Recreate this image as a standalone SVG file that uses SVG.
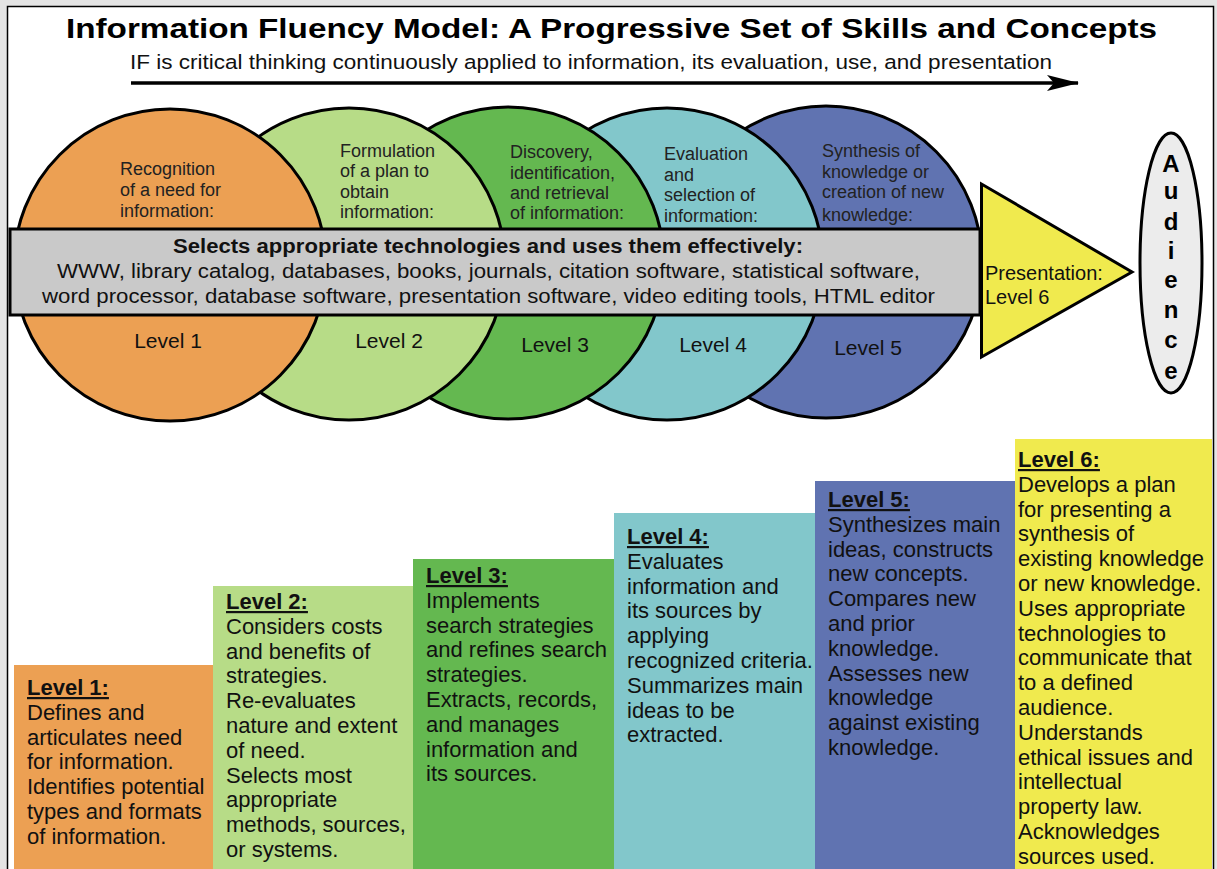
<svg xmlns="http://www.w3.org/2000/svg" width="1217" height="869" viewBox="0 0 1217 869">
<defs>
<marker id="ah" viewBox="0 0 32 16" refX="31" refY="8" markerWidth="32" markerHeight="16" markerUnits="userSpaceOnUse" orient="auto">
<path d="M0,0 L32,8 L0,16 L7,8 Z" fill="#000"/>
</marker>
<style>
.title{font-family:"Liberation Sans",Arial,sans-serif;font-weight:bold;font-size:28px;fill:#000}
.sub{font-family:"Liberation Sans",Arial,sans-serif;font-size:20.5px;fill:#111}
.circ{stroke:#000;stroke-width:3}
.clab{font-family:"Liberation Sans",Arial,sans-serif;font-size:18px;fill:#222}
.lvl{font-family:"Liberation Sans",Arial,sans-serif;font-size:21px;fill:#111;text-anchor:middle}
.band{font-family:"Liberation Sans",Arial,sans-serif;font-size:20px;fill:#111}
.bandb{font-family:"Liberation Sans",Arial,sans-serif;font-size:20px;font-weight:bold;fill:#111}
.aud{font-family:"Liberation Sans",Arial,sans-serif;font-size:24px;font-weight:bold;fill:#000;text-anchor:middle}
.box{font-family:"Liberation Sans",Arial,sans-serif;font-size:22px;fill:#111}
.hd{font-weight:bold;text-decoration:underline}
</style>
</defs>
<rect x="0" y="0" width="1217" height="869" fill="#e4e4e4"/>
<rect x="7.5" y="6.5" width="1206" height="880" fill="#fff" stroke="#000" stroke-width="1.5"/>

<g id="title">
<text class="title" x="66" y="38" textLength="1091" lengthAdjust="spacingAndGlyphs">Information Fluency Model: A Progressive Set of Skills and Concepts</text>
<text class="sub" x="130" y="69" textLength="922" lengthAdjust="spacingAndGlyphs">IF is critical thinking continuously applied to information, its evaluation, use, and presentation</text>
</g>

<g id="connectors">
<line x1="131" y1="83" x2="1078" y2="83" stroke="#000" stroke-width="3.3" marker-end="url(#ah)"/>
</g>

<g id="level5-circle">
<circle class="circ" cx="826" cy="262" r="156" fill="#6073b1"/>
</g>
<g id="level4-circle">
<circle class="circ" cx="667" cy="264" r="156" fill="#82c7cb"/>
</g>
<g id="level3-circle">
<circle class="circ" cx="508" cy="263" r="156" fill="#64b850"/>
</g>
<g id="level2-circle">
<circle class="circ" cx="349" cy="264" r="156" fill="#b7dc87"/>
</g>
<g id="level1-circle">
<circle class="circ" cx="170" cy="265" r="156" fill="#eca053"/>
</g>

<g id="circle-labels">
<text class="clab" x="120" y="175">Recognition<tspan x="120" y="196">of a need for</tspan><tspan x="120" y="217">information:</tspan></text>
<text class="clab" x="340" y="157">Formulation<tspan x="340" y="177">of a plan to</tspan><tspan x="340" y="198">obtain</tspan><tspan x="340" y="218">information:</tspan></text>
<text class="clab" x="510" y="158">Discovery,<tspan x="510" y="179">identification,</tspan><tspan x="510" y="199">and retrieval</tspan><tspan x="510" y="219">of information:</tspan></text>
<text class="clab" x="664" y="160">Evaluation<tspan x="664" y="181">and</tspan><tspan x="664" y="201">selection of</tspan><tspan x="664" y="222">information:</tspan></text>
<text class="clab" x="822" y="157">Synthesis of<tspan x="822" y="178">knowledge or</tspan><tspan x="822" y="198">creation of new</tspan><tspan x="822" y="221">knowledge:</tspan></text>
<text class="lvl" x="168" y="348">Level 1</text>
<text class="lvl" x="389" y="348">Level 2</text>
<text class="lvl" x="555" y="352">Level 3</text>
<text class="lvl" x="713" y="352">Level 4</text>
<text class="lvl" x="868" y="355">Level 5</text>
</g>

<g id="presentation">
<polygon points="981.5,184 981.5,357 1132,272" fill="#f0ea4e" stroke="#000" stroke-width="3" stroke-linejoin="miter"/>
<text class="band" x="985" y="280" font-size="21">Presentation:<tspan x="985" y="304">Level 6</tspan></text>
</g>

<g id="technology-band">
<rect x="10" y="229" width="970" height="86" fill="#c9c9c9" stroke="#000" stroke-width="3"/>
<text class="bandb" x="173" y="253" textLength="630" lengthAdjust="spacingAndGlyphs">Selects appropriate technologies and uses them effectively:</text>
<text class="band" x="57" y="278" textLength="863" lengthAdjust="spacingAndGlyphs">WWW, library catalog, databases, books, journals, citation software, statistical software,</text>
<text class="band" x="42" y="303" textLength="893" lengthAdjust="spacingAndGlyphs">word processor, database software, presentation software, video editing tools, HTML editor</text>
</g>

<g id="audience">
<ellipse cx="1171" cy="263" rx="31" ry="130" fill="#ececec" stroke="#000" stroke-width="3"/>
<text class="aud" x="1171" y="172">A</text>
<text class="aud" x="1171" y="199">u</text>
<text class="aud" x="1171" y="230">d</text>
<text class="aud" x="1171" y="259">i</text>
<text class="aud" x="1171" y="288">e</text>
<text class="aud" x="1171" y="318">n</text>
<text class="aud" x="1171" y="348">c</text>
<text class="aud" x="1171" y="379">e</text>
</g>

<g id="level1-box">
<rect x="14" y="665" width="200" height="204" fill="#eca053"/>
<text class="box" x="27" y="695"><tspan class="hd">Level 1:</tspan><tspan x="27" dy="24.8">Defines and</tspan><tspan x="27" dy="24.8">articulates need</tspan><tspan x="27" dy="24.8">for information.</tspan><tspan x="27" dy="24.8">Identifies potential</tspan><tspan x="27" dy="24.8">types and formats</tspan><tspan x="27" dy="24.8">of information.</tspan></text>
</g>
<g id="level2-box">
<rect x="213" y="586" width="201" height="283" fill="#b7dc87"/>
<text class="box" x="226" y="609"><tspan class="hd">Level 2:</tspan><tspan x="226" dy="24.8">Considers costs</tspan><tspan x="226" dy="24.8">and benefits of</tspan><tspan x="226" dy="24.8">strategies.</tspan><tspan x="226" dy="24.8">Re-evaluates</tspan><tspan x="226" dy="24.8">nature and extent</tspan><tspan x="226" dy="24.8">of need.</tspan><tspan x="226" dy="24.8">Selects most</tspan><tspan x="226" dy="24.8">appropriate</tspan><tspan x="226" dy="24.8">methods, sources,</tspan><tspan x="226" dy="24.8">or systems.</tspan></text>
</g>
<g id="level3-box">
<rect x="413" y="559" width="201" height="310" fill="#64b850"/>
<text class="box" x="426" y="583"><tspan class="hd">Level 3:</tspan><tspan x="426" dy="24.8">Implements</tspan><tspan x="426" dy="24.8">search strategies</tspan><tspan x="426" dy="24.8">and refines search</tspan><tspan x="426" dy="24.8">strategies.</tspan><tspan x="426" dy="24.8">Extracts, records,</tspan><tspan x="426" dy="24.8">and manages</tspan><tspan x="426" dy="24.8">information and</tspan><tspan x="426" dy="24.8">its sources.</tspan></text>
</g>
<g id="level4-box">
<rect x="614" y="513" width="201" height="356" fill="#82c7cb"/>
<text class="box" x="627" y="544"><tspan class="hd">Level 4:</tspan><tspan x="627" dy="24.8">Evaluates</tspan><tspan x="627" dy="24.8">information and</tspan><tspan x="627" dy="24.8">its sources by</tspan><tspan x="627" dy="24.8">applying</tspan><tspan x="627" dy="24.8">recognized criteria.</tspan><tspan x="627" dy="24.8">Summarizes main</tspan><tspan x="627" dy="24.8">ideas to be</tspan><tspan x="627" dy="24.8">extracted.</tspan></text>
</g>
<g id="level5-box">
<rect x="815" y="481" width="201" height="388" fill="#6073b1"/>
<text class="box" x="828" y="507"><tspan class="hd">Level 5:</tspan><tspan x="828" dy="24.8">Synthesizes main</tspan><tspan x="828" dy="24.8">ideas, constructs</tspan><tspan x="828" dy="24.8">new concepts.</tspan><tspan x="828" dy="24.8">Compares new</tspan><tspan x="828" dy="24.8">and prior</tspan><tspan x="828" dy="24.8">knowledge.</tspan><tspan x="828" dy="24.8">Assesses new</tspan><tspan x="828" dy="24.8">knowledge</tspan><tspan x="828" dy="24.8">against existing</tspan><tspan x="828" dy="24.8">knowledge.</tspan></text>
</g>
<g id="level6-box">
<rect x="1015" y="439" width="197" height="430" fill="#f0ea4e"/>
<text class="box" x="1018" y="467"><tspan class="hd">Level 6:</tspan><tspan x="1018" dy="24.8">Develops a plan</tspan><tspan x="1018" dy="24.8">for presenting a</tspan><tspan x="1018" dy="24.8">synthesis of</tspan><tspan x="1018" dy="24.8">existing knowledge</tspan><tspan x="1018" dy="24.8">or new knowledge.</tspan><tspan x="1018" dy="24.8">Uses appropriate</tspan><tspan x="1018" dy="24.8">technologies to</tspan><tspan x="1018" dy="24.8">communicate that</tspan><tspan x="1018" dy="24.8">to a defined</tspan><tspan x="1018" dy="24.8">audience.</tspan><tspan x="1018" dy="24.8">Understands</tspan><tspan x="1018" dy="24.8">ethical issues and</tspan><tspan x="1018" dy="24.8">intellectual</tspan><tspan x="1018" dy="24.8">property law.</tspan><tspan x="1018" dy="24.8">Acknowledges</tspan><tspan x="1018" dy="24.8">sources used.</tspan></text>
</g>
</svg>
